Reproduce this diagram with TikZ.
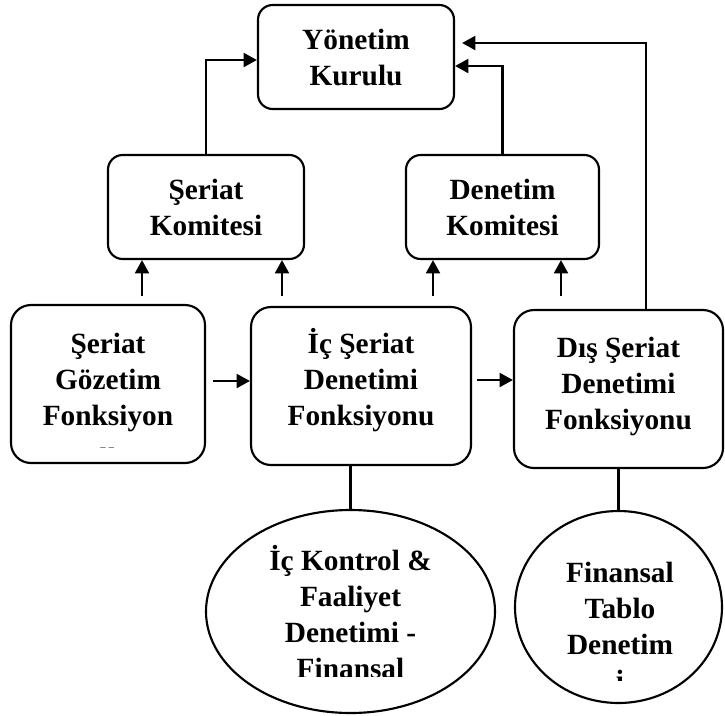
\documentclass[tikz,border=0pt]{standalone}
\usepackage{fontspec}
\setmainfont{Liberation Serif}
\usetikzlibrary{shapes.geometric, arrows.meta}

\begin{document}
\begin{tikzpicture}[x = 0.75pt, y = -0.75pt,
    kutu/.style = {draw, line width = 1.6pt, rounded corners = 11pt, inner sep = 0pt},
    altkutu/.style = {kutu, minimum height = 118.5pt, rounded corners = 15pt},
    yazi/.style = {font = \bfseries\fontsize{22}{27}\selectfont, align = center, inner sep = 0pt},
    elips/.style = {draw, ellipse, line width = 1.6pt, inner sep = 0pt},
    ok/.style = {line width = 1.6pt, -{Triangle[length = 10pt, width = 10.5pt]}},
    cizgi/.style = {line width = 1.6pt}]
    \useasboundingbox (0,0) rectangle (725,715);
    % Kurullar
    \node[kutu, yazi, minimum width = 147pt, minimum height = 78pt] (yon) at (356,57) {Yönetim\\Kurulu};
    \node[kutu, yazi, minimum width = 147pt, minimum height = 78pt] (serkom) at (206,207) {Şeriat\\Komitesi};
    \node[kutu, yazi, minimum width = 144.75pt, minimum height = 78pt] (denkom) at (502.5,207) {Denetim\\Komitesi};
    % Fonksiyonlar
    \node[altkutu, minimum width = 145.5pt] (sergoz) at (108,384) {};
    \node[altkutu, minimum width = 165pt] (icser) at (361,386) {};
    \node[altkutu, minimum width = 156.75pt] (disser) at (618.5,389) {};
    \node[yazi, anchor = north] (icseryazi) at (361,328) {İç Şeriat\\Denetimi\\Fonksiyonu};
    \node[yazi, anchor = north] (disseryazi) at (618.5,337) {Dış Şeriat\\Denetimi\\Fonksiyonu};
    \begin{scope}
        \clip (11,300) rectangle (205,447);
        \node[yazi, anchor = north] (sergozyazi) at (108,333) {Şeriat\\Gözetim\\Fonksiyon\\u};
    \end{scope}
    % Denetimler
    \node[elips, minimum width = 216.75pt, minimum height = 152.25pt] (icel) at (350.5,611.5) {};
    \node[elips, minimum width = 155.25pt, minimum height = 144pt] (finel) at (618.5,607) {};
    \begin{scope}
        \clip (206,500) rectangle (495,676);
        \node[yazi, anchor = north] (icelyazi) at (350.5,545) {İç Kontrol \&\\Faaliyet\\Denetimi -\\Finansal};
    \end{scope}
    \begin{scope}
        \clip (515,500) rectangle (722,680);
        \node[yazi, anchor = north] (finelyazi) at (620,562) {Finansal\\Tablo\\Denetim\\i};
    \end{scope}
    % Yönetim Kuruluna
    \draw[ok] (serkom.north) |- ([yshift = -2.25pt]yon.west);
    \draw[ok] (denkom.north) |- ([yshift = -6.75pt]yon.east);
    \draw[ok] ([xshift = 20.6pt]disser.north) |- ([xshift = 5.25pt, yshift = 10.5pt]yon.east);
    % Komitelere
    \coordinate (k1) at (142,296);
    \coordinate (k2) at (282,296);
    \coordinate (k3) at (433,296);
    \coordinate (k4) at (561,296);
    \draw[ok] (k1) -- (k1 |- serkom.south);
    \draw[ok] (k2) -- (k2 |- serkom.south);
    \draw[ok] (k3) -- (k3 |- denkom.south);
    \draw[ok] (k4) -- (k4 |- denkom.south);
    % Yatay oklar
    \coordinate (y1) at (213,381);
    \coordinate (y2) at (477,380);
    \draw[ok] (y1) -- (y1 -| icser.west);
    \draw[ok] (y2) -- (y2 -| disser.west);
    % Elipslere
    \draw[cizgi] (icel.north |- icser.south) -- (icel.north);
    \draw[cizgi] (finel.north |- disser.south) -- (finel.north);
\end{tikzpicture}
\end{document}
